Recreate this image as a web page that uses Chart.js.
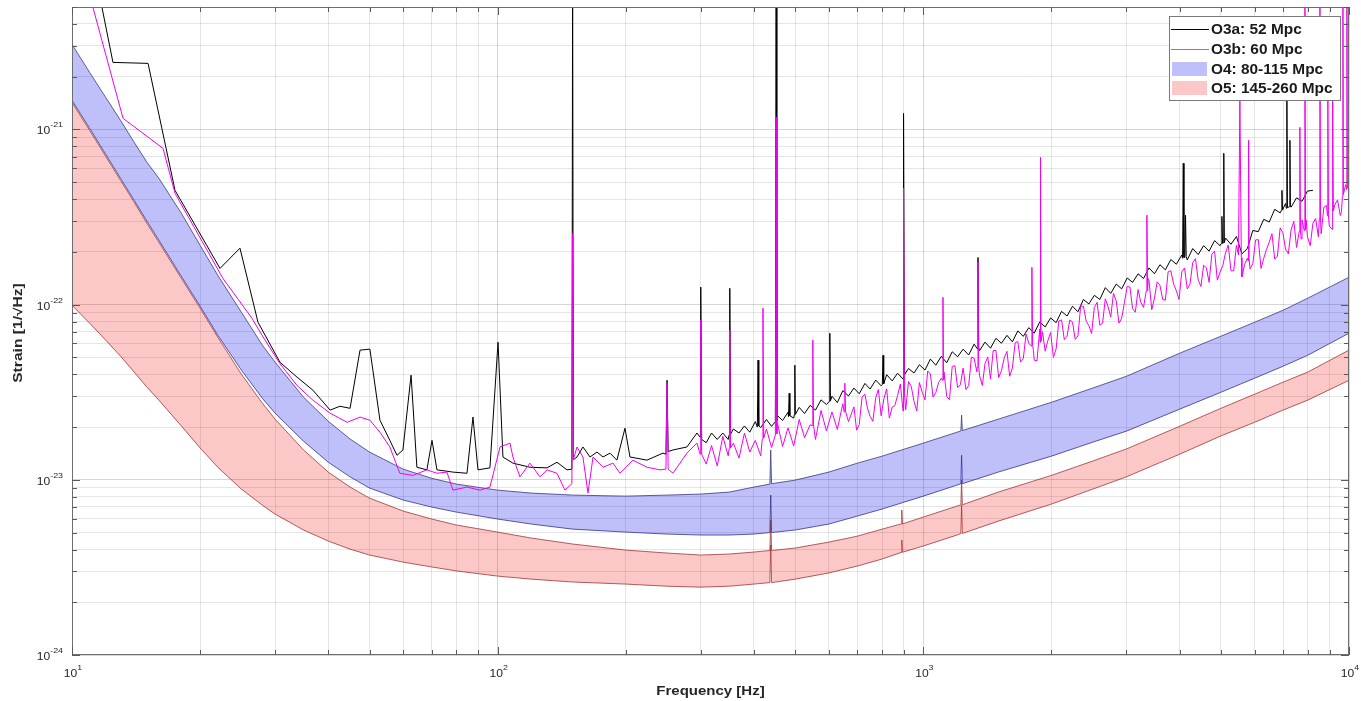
<!DOCTYPE html>
<html><head><meta charset="utf-8">
<style>html,body{margin:0;padding:0;background:#fff}#wrap{width:1361px;height:701px;position:relative}</style>
<script src="https://cdn.jsdelivr.net/npm/chart.js@4.4.1/dist/chart.umd.min.js"></script>
</head><body><div id="wrap"><canvas id="c" width="1361" height="701"></canvas></div>
<script>
// Strain values are given in units of 1e-24 1/sqrt(Hz)
const UNIT = 1e-24;

// ---- design sensitivity bands (frequency in Hz) ----
const bandFreq = [10,11,12,13,14,15,16,18,20,22,25,28,30,35,40,45,50,60,70,80,100,120,150,200,250,300,350,400,450,500,600,700,800,1000,1200,1500,2000,2500,3000,4000,5000,6000,7000,8000,10000];
const o4Upper = [3058,2117,1524,1127,844,649,526,337,218,147,90.5,58.7,46.9,29.6,21.6,17.1,14.4,11.5,10.2,9.45,8.73,8.40,8.18,8.07,8.18,8.29,8.51,9.09,9.58,9.96,11.07,12.45,13.65,16.2,18.7,22.2,27.7,33.4,39.0,52.8,66.0,79.3,92.9,108.8,143.3];
const o4Lower = [1466,1015,721,526,394,299,233,147,97.9,66.9,42.3,29.2,24.0,16.6,12.6,10.4,8.97,7.66,6.99,6.54,5.97,5.59,5.23,5.03,4.90,4.84,4.84,4.90,5.03,5.17,5.59,6.21,6.81,8.07,9.33,11.07,13.65,16.4,18.96,25.3,31.6,38.0,44.5,51.4,68.7];
const o5Upper = [1428,988,702,512,384,291,227,143.3,95.4,65.2,40.1,27.4,22.2,14.8,11.07,9.09,7.86,6.63,5.97,5.52,5.03,4.65,4.30,3.97,3.82,3.72,3.77,3.87,3.97,4.08,4.41,4.77,5.23,6.13,7.08,8.51,10.6,12.8,15.0,20.2,25.6,30.8,36.1,41.2,55.0];
const o5Lower = [99.2,78.3,62.7,50.8,41.2,33.8,28.5,20.5,15.2,11.8,8.85,7.17,6.37,5.17,4.47,4.02,3.72,3.39,3.18,3.02,2.82,2.71,2.61,2.54,2.47,2.44,2.47,2.54,2.61,2.71,2.94,3.22,3.53,4.19,4.84,5.81,7.27,8.85,10.4,14.0,17.8,21.3,25.0,28.5,37.0];
// narrow lines inside the design bands: [frequency Hz, strain]
const o4UpperLines = [[436,9.45],[438,14.8],[440,9.5],[1225,19.0],[1230,23.4],[1235,19.1]];
const o4LowerLines = [[436,5.0],[438,8.18],[440,5.0],[1225,9.5],[1230,13.8],[1235,9.5]];
const o5UpperLines = [[436,3.95],[438,5.89],[440,3.95],[887,5.6],[890,6.72],[893,5.6],[1225,7.2],[1230,9.96],[1235,7.2]];
const o5LowerLines = [[436,2.59],[438,4.24],[440,2.59],[887,3.85],[890,4.53],[893,3.86],[1225,4.93],[1230,7.16],[1235,4.94]];

// ---- O3a measured curve: [frequency Hz, strain] ----
const o3aCurve = [[11.02,10935],[11.76,4973],[12.48,2414],[15.09,2383],[17.46,449],[22.27,161],[24.81,210],[27.35,79.3],[30.8,46.9],[33.8,38.5],[36.8,32.5],[40.4,25.0],[42.6,26.3],[45.0,25.6],[47.5,55.0],[50.1,55.7],[52.9,21.9],[55.8,16.8],[58.0,13.8],[59.9,14.8],[62.6,39.6],[64.6,11.8],[68.2,11.4],[70.1,16.8],[72.0,11.4],[78.5,11.07],[84.7,10.9],[87.5,22.8],[89.9,11.4],[95.9,11.7],[100.2,61.0],[102.9,13.5],[108.6,12.45],[119.1,11.8],[130.6,11.7],[137.8,12.6],[145.5,11.4],[153.6,13.5],[158.6,15.4],[164.8,13.5],[171.1,14.4],[176.8,13.5],[183.6,14.2],[190.6,12.95],[199.1,19.7],[204.6,13.5],[224.2,12.95],[244.5,14.2],[258.1,14.8],[278.4,15.4],[293.9,18.5],
[309,16.3],[318,18.5],[328,17.0],[338,18.5],[348,17.0],[358,19.5],[369,18.5],[380,20.3],[391,18.7],[403,21.5],[415,19.9],[428,22.1],[440,20.2],[454,23.3],[467,21.8],[481,24.3],[496,22.5],[511,25.9],[526,23.9],[542,26.6],[558,25.0],[575,28.6],[592,26.9],[610,30.0],[628,27.6],[647,32.3],[667,30.1],[687,33.4],[707,31.0],[729,35.5],[750,33.0],[773,37.1],[796,34.4],[820,39.8],[845,36.7],[870,40.6],[896,37.6],[923,43.2],[951,40.7],[979,45.4],[1009,42.3],[1039,48.9],[1070,45.1],[1102,50.7],[1135,46.6],[1169,53.8],[1204,50.4],[1240,55.7],[1278,51.6],[1316,59.5],[1356,54.7],[1396,61.1],[1438,56.4],[1481,64.2],[1526,60.2],[1572,66.8],[1619,61.3],[1667,70.8],[1717,65.9],[1769,73.9],[1822,68.8],[1877,79.7],[1933,74.6],[1991,84.0],[2051,78.9],[2112,91.5],[2176,86.1],[2241,97.9],[2308,91.0],[2377,107],[2449,101],[2522,113],[2598,107],[2676,125],[2756,116],[2839,131],[2924,123],[3012,142],[3102,134],[3195,150],[3291,141],[3390,162],[3491,150],[3596,169],[3704,158],[3815,181],[3930,170],[4047,192],[4169,180],[4294,209],[4423,193],[4555,217],[4692,202],[4833,232],[4978,217],[5127,240],[5281,221],[5439,245],[5603,195],[5771,209],[5944,265],[6122,261],[6306,307],[6495,296],[6690,350],[6891,334],[7097,378],[7310,360],[7530,407],[7755,389],[7988,445],[8228,449]];
// O3a narrow lines: [frequency Hz, strain]
const o3aLines = [[149.4,11.5],[150,8000],[150.6,13.0],[248.5,14.0],[250,37.0],[251.5,14.5],[299,17.5],[300,126],[301.5,17.0],[349.6,18.0],[351,124],[352.4,18.2],[407.4,20.0],[409,48.2],[410.6,20.3],[449.2,21.5],[451,8000],[452.8,21.8],[482.2,23.0],[484,31.2],[485.8,23.2],[497.6,23.5],[499,45.1],[500.4,23.6],[601,28.0],[603,68.7],[605,28.2],[801,35.0],[804,51.4],[807,35.3],[897,39.5],[900,1235],[903,39.8],[1339,56.0],[1344,186],[1349,56.5],[4065,184],[4080,641],[4095,186],[4115,186],[4130,324],[4145,188],[5010,223],[5028,319],[5046,224],[5065,225],[5080,731],[5095,226],[6935,345],[6957,449],[6980,347],[7125,355],[7146,1466],[7167,358],[7245,362],[7264,867],[7283,365]];

// ---- O3b measured curve ----
const o3bCurve = [[10.44,9340],[11.2,4973],[13.18,1157],[16.36,780],[17.46,432],[22.63,141],[26.47,83.6],[27.95,66.9],[30.8,46.0],[33.8,34.5],[36.8,28.5],[40.4,24.0],[44.3,21.3],[47.5,22.8],[50.1,21.9],[52.9,18.7],[55.8,15.4],[58.9,10.9],[63.2,10.6],[68.2,11.4],[72.0,10.9],[76.0,11.07],[78.5,8.73],[84.7,9.09],[90.9,8.73],[95.9,9.09],[101.3,15.4],[106.9,16.2],[108.6,13.5],[112.8,10.4],[119.1,12.45],[125.7,10.4],[130.6,11.4],[137.8,10.9],[143.9,8.73],[153.6,15.4],[158.6,13.5],[163.0,8.40],[167.5,13.5],[176.8,11.8],[186.6,12.45],[193.8,10.9],[207.9,12.95],[224.2,11.8],[240.6,11.4],[258.1,10.9],[278.4,14.2],[293.9,16.2],
[309,12.3],[318,15.7],[328,12.0],[338,17.7],[348,13.7],[358,16.2],[369,13.3],[380,18.5],[391,14.4],[403,16.8],[415,13.7],[428,19.5],[440,15.3],[454,21.2],[467,15.5],[481,19.8],[496,15.6],[511,22.1],[526,17.4],[542,20.6],[558,17.0],[575,24.9],[592,19.0],[610,24.4],[628,19.4],[647,27.2],[667,21.5],[687,26.1],[707,20.7],[729,30.8],[750,23.0],[773,29.4],[796,23.2],[820,33.1],[845,26.0],[870,30.3],[896,24.7],[923,36.4],[951,28.0],[979,35.9],[1009,28.6],[1039,40.2],[1070,31.5],[1102,38.0],[1135,29.9],[1169,44.4],[1204,33.6],[1240,43.4],[1278,34.5],[1316,49.5],[1356,39.2],[1396,46.1],[1438,37.7],[1481,54.7],[1526,41.9],[1572,54.1],[1619,43.5],[1667,61.6],[1717,49.0],[1769,60.2],[1822,48.2],[1877,72.5],[1933,54.2],[1991,69.3],[2051,55.9],[2112,81.9],[2176,66.1],[2241,79.5],[2308,66.4],[2377,98.0],[2449,75.7],[2522,96.5],[2598,76.3],[2676,108],[2756,85.1],[2839,105],[2924,83.7],[3012,127],[3102,94.9],[3195,122],[3291,96.4],[3390,137],[3491,109],[3596,129],[3704,106],[3815,156],[3930,120],[4047,154],[4169,123],[4294,174],[4423,138],[4555,168],[4692,134],[4833,202],[4978,153],[5127,197],[5281,156],[5439,218],[5603,144],[5771,184],[5944,172],[6122,235],[6306,184],[6495,227],[6690,182],[6891,274],[7097,207],[7310,267],[7530,212],[7755,305],[7988,244],[8228,292],[8474,244],[8729,360],[8990,281],[9260,371],[9538,323],[9824,484],[10000,480],
[697,19.2],[718,29.7],[739,25.7],[761,21.6],[784,32.8],[808,29.0],[832,22.5],[857,26.5],[883,35.2],[909,25.1],[937,34.0],[965,24.7],[994,31.6],[1024,41.8],[1054,29.7],[1086,35.9],[1118,41.3],[1152,28.7],[1186,44.8],[1222,34.9],[1259,32.8],[1297,50.1],[1336,41.3],[1376,34.6],[1417,50.3],[1459,54.6],[1503,38.4],[1549,49.6],[1595,39.0],[1643,60.5],[1692,47.0],[1743,67.9],[1814,54.6],[1849,47.7],[1905,70.1],[1962,62.6],[2021,50.0],[2081,80.6],[2144,63.1],[2208,81.6],[2274,63.3],[2342,98.0],[2413,80.5],[2485,68.4],[2560,103],[2637,78.4],[2716,97.5],[2797,116],[2881,78.4],[2968,103],[3057,126],[3148,90.5],[3243,103],[3375,141],[3440,93.5],[3543,135],[3650,107],[3759,154],[3872,131],[3988,107],[4108,162],[4231,131],[4358,183],[4489,127],[4623,162],[4762,194],[4905,138],[5052,167],[5204,219],[5360,156],[5687,170],[5857,160],[6033,234],[6214,161],[6400,207],[6592,254],[6790,189],[6994,257],[7203,195],[7420,299],[7720,237],[7930,305],[8107,217],[8350,310],[8601,254],[8859,368],[9124,269],[9398,396],[9600,340],[9950,479]];
const o3bLines = [[149.4,9.5],[150,255],[150.6,13.0],[248.5,11.5],[250,35.6],[251.5,11.5],[299,14.0],[300,81.5],[301.5,14.0],[349.6,15.0],[351,71.4],[352.4,15.2],[418.3,17.0],[420,95.4],[421.7,17.3],[449.2,18.0],[451,1172],[452.8,18.3],[548,20.4],[550,62.7],[552,20.6],[651.5,24.4],[654,35.6],[656.5,24.6],[897,30.5],[900,461],[903,31.0],[1108,37.0],[1112,110],[1116,37.2],[1339,44.0],[1344,175],[1349,44.3],[1792,58.0],[1799,163],[1806,58.5],[1880,61.0],[1885,693],[1890,61.5],[3338,119],[3351,324],[3364,120],[5500,192],[5542,1466],[5585,185],[5795,178],[5810,867],[5825,182],[7640,262],[7666,1028],[7690,265],[7850,265],[7877,8000],[7905,268],[8515,308],[8543,8000],[8570,311],[8895,322],[8920,1466],[8945,326],[9140,338],[9166,1672],[9190,342],[9650,415],[9676,8000],[9700,425],[9865,455],[9888,8000],[9910,465]];

// ---- axes ----
const xDecades = [10,100,1000,10000];
const xTickExp = ['1','2','3','4'];
const yDecades = [1e-24,1e-23,1e-22,1e-21];
const yTickExp = ['-24','-23','-22','-21'];
const yMax = 5e-21;
const legendLabels = ['O3a: 52 Mpc','O3b: 60 Mpc','O4: 80-115 Mpc','O5: 145-260 Mpc'];

// ---- build datasets ----
const toPairs = (fs, vs) => fs.map((f,i)=>[f, vs[i]]);
const fromPairs = (...lists) => lists.flat().map(p=>({x:p[0], y:p[1]*UNIT})).sort((a,b)=>a.x-b.x);

const xGrid = [];
for (let i=0;i<xDecades.length-1;i++) for (let m=1;m<10;m++) xGrid.push(m*xDecades[i]);
xGrid.push(xDecades[xDecades.length-1]);
const yGrid = [];
for (let i=0;i<yDecades.length;i++) for (let m=1;m<10;m++){ const v=m*yDecades[i]; if (v<=yMax*1.0001) yGrid.push(v); }
const isDecade = v => Math.abs(Math.log10(v)-Math.round(Math.log10(v)))<1e-6;

const FONT = '"Liberation Sans", Arial, Helvetica, sans-serif';
const BLUE_FILL = 'rgba(0,0,235,0.25)';
const RED_FILL = 'rgba(235,0,0,0.22)';
const BLACK = '#000000', MAGENTA = '#f000f0';

function stretchText(ctx, s, x, y, font, align, sx){
  ctx.save(); ctx.font = font; ctx.translate(x,y); ctx.scale(sx,1);
  ctx.textAlign = align; ctx.fillText(s,0,0); ctx.restore();
}
function textW(ctx, s, font, sx){ ctx.save(); ctx.font=font; const w=ctx.measureText(s).width*sx; ctx.restore(); return w; }

const framePlugin = {
  id:'frame',
  afterDraw(chart){
    const {ctx, chartArea:a, scales:{x,y}} = chart;
    ctx.save();
    ctx.strokeStyle = '#6e6e6e'; ctx.lineWidth = 1;
    ctx.strokeRect(a.left+0.5, a.top+0.5, a.right-a.left-1, a.bottom-a.top-1);
    ctx.strokeStyle = '#5a5a5a';
    ctx.beginPath();
    xGrid.forEach(v=>{
      const px = Math.round(x.getPixelForValue(v))+0.5; const L = isDecade(v)?8:5;
      ctx.moveTo(px, a.bottom); ctx.lineTo(px, a.bottom-L);
      ctx.moveTo(px, a.top); ctx.lineTo(px, a.top+L);
    });
    yGrid.forEach(v=>{
      const py = Math.round(y.getPixelForValue(v))+0.5; const L = isDecade(v)?8:5;
      ctx.moveTo(a.left, py); ctx.lineTo(a.left+L, py);
      ctx.moveTo(a.right, py); ctx.lineTo(a.right-L, py);
    });
    ctx.stroke();
    ctx.fillStyle = '#262626';
    const fBase = '11px '+FONT, fExp = '8px '+FONT;
    yDecades.forEach((v,i)=>{
      const py = y.getPixelForValue(v);
      const we = textW(ctx, yTickExp[i], fExp, 1.1);
      stretchText(ctx, yTickExp[i], 63, py-2, fExp, 'right', 1.1);
      stretchText(ctx, '10', 63-we, py+5, fBase, 'right', 1.1);
    });
    xDecades.forEach((v,i)=>{
      const px = x.getPixelForValue(v);
      const w10 = textW(ctx,'10',fBase,1.1), we = textW(ctx,xTickExp[i],fExp,1.1);
      const x0 = px - (w10+we)/2 + 1;
      stretchText(ctx,'10',x0,677,fBase,'left',1.1);
      stretchText(ctx,xTickExp[i],x0+w10,670,fExp,'left',1.1);
    });
    const fTitle = 'bold 12px '+FONT;
    stretchText(ctx,'Frequency [Hz]', (a.left+a.right)/2, 695, fTitle, 'center', 1.25);
    ctx.save(); ctx.translate(22, 333); ctx.rotate(-Math.PI/2);
    stretchText(ctx,'Strain [1/\u221AHz]', 0, 0, fTitle, 'center', 1.3);
    ctx.restore();
    // legend
    const L0 = 1169.5, T0 = 16.5, LW = 171, LH = 84;
    ctx.fillStyle = '#ffffff'; ctx.fillRect(L0, T0, LW, LH);
    ctx.strokeStyle = '#7a7a7a'; ctx.strokeRect(L0, T0, LW, LH);
    const rows = [29, 49, 69, 88];
    const fLeg = 'bold 14px '+FONT;
    ctx.lineWidth = 1;
    ctx.strokeStyle = BLACK; ctx.beginPath(); ctx.moveTo(1171, rows[0]+0.5); ctx.lineTo(1209, rows[0]+0.5); ctx.stroke();
    ctx.strokeStyle = '#d050d0'; ctx.beginPath(); ctx.moveTo(1171, rows[1]+0.5); ctx.lineTo(1209, rows[1]+0.5); ctx.stroke();
    ctx.fillStyle = BLUE_FILL; ctx.fillRect(1172, rows[2]-7, 35, 14);
    ctx.fillStyle = RED_FILL; ctx.fillRect(1172, rows[3]-7, 35, 14);
    ctx.fillStyle = '#1a1a1a';
    legendLabels.forEach((s,i)=> stretchText(ctx, s, 1211, rows[i]+5, fLeg, 'left', 1.1));
    ctx.restore();
  }
};

new Chart(document.getElementById('c'), {
  type:'line',
  data:{ datasets:[
    {label:legendLabels[1], data:fromPairs(o3bCurve,o3bLines), borderColor:MAGENTA, borderWidth:1, fill:false, order:0},
    {label:legendLabels[0], data:fromPairs(o3aCurve,o3aLines), borderColor:BLACK, borderWidth:1, fill:false, order:1},
    {label:legendLabels[2], data:fromPairs(toPairs(bandFreq,o4Upper),o4UpperLines), borderColor:'#3a3a7a', borderWidth:0.8, backgroundColor:BLUE_FILL, fill:'+1', order:2},
    {label:'O4 lower', data:fromPairs(toPairs(bandFreq,o4Lower),o4LowerLines), borderColor:'#3a3a7a', borderWidth:0.8, fill:false, order:3},
    {label:legendLabels[3], data:fromPairs(toPairs(bandFreq,o5Upper),o5UpperLines), borderColor:'#9a3a3a', borderWidth:0.8, backgroundColor:RED_FILL, fill:'+1', order:4},
    {label:'O5 lower', data:fromPairs(toPairs(bandFreq,o5Lower),o5LowerLines), borderColor:'#9a3a3a', borderWidth:0.8, fill:false, order:5}
  ]},
  options:{
    responsive:false, animation:false, events:[],
    layout:{padding:{left:0, top:7, right:12, bottom:0}},
    elements:{line:{tension:0}, point:{radius:0}},
    plugins:{legend:{display:false}, tooltip:{enabled:false}},
    scales:{
      x:{type:'logarithmic', min:10, max:10000,
         afterBuildTicks: s => { s.ticks = xGrid.map(v=>({value:v})); },
         afterFit: s => { s.height = 46; },
         ticks:{display:false, autoSkip:false},
         grid:{drawTicks:false, color: c => isDecade(c.tick.value) ? 'rgba(0,0,0,0.16)' : 'rgba(0,0,0,0.10)', lineWidth:1},
         border:{display:false}},
      y:{type:'logarithmic', min:1e-24, max:yMax,
         afterBuildTicks: s => { s.ticks = yGrid.map(v=>({value:v})); },
         afterFit: s => { s.width = 72; },
         ticks:{display:false, autoSkip:false},
         grid:{drawTicks:false, color: c => isDecade(c.tick.value) ? 'rgba(0,0,0,0.16)' : 'rgba(0,0,0,0.10)', lineWidth:1},
         border:{display:false}}
    }
  },
  plugins:[framePlugin]
});
</script></body></html>
